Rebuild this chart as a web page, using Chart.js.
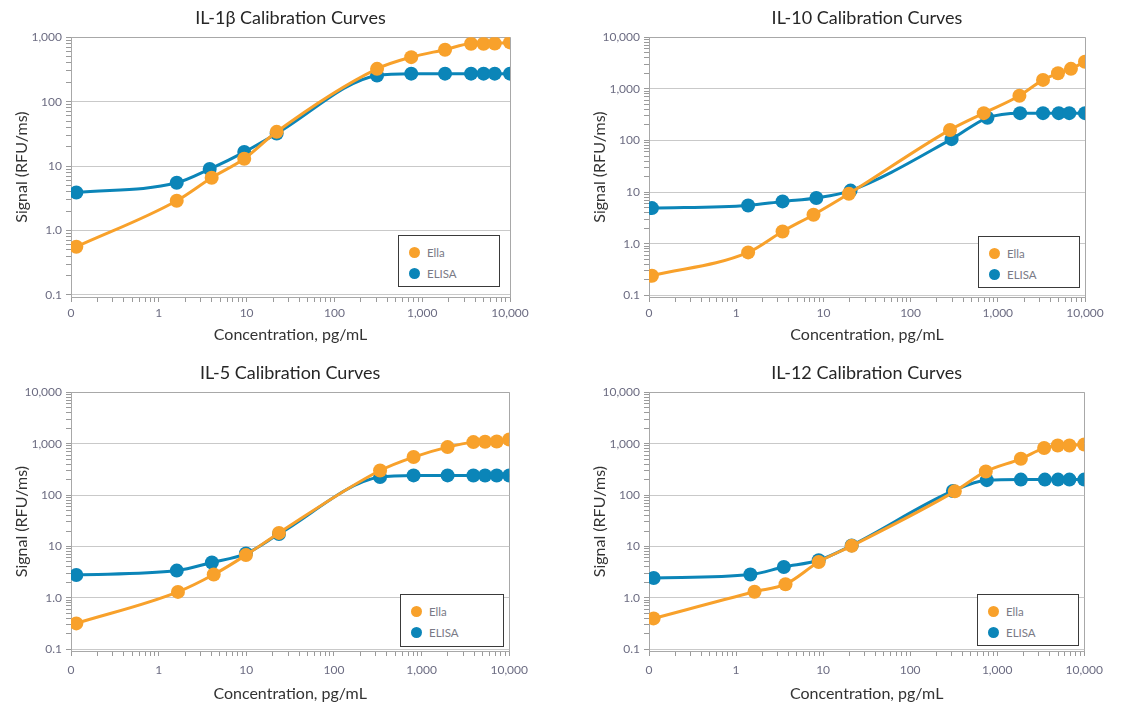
<!DOCTYPE html>
<html>
<head>
<meta charset="utf-8">
<title>Calibration Curves</title>
<script src="https://cdn.jsdelivr.net/npm/chart.js@4.4.1/dist/chart.umd.min.js"></script>
<style>
    html, body { margin: 0; padding: 0; background: #fff; }
    body { position: relative; width: 1122px; height: 711px; overflow: hidden; font-family: Lato, sans-serif; }
    .panel { position: absolute; }
    .legend { position: absolute; box-sizing: border-box; border: 1.5px solid #3a3a3a; background: #fff; }
    .legend .item { position: absolute; left: 0; font-size: 11.5px; color: #7a7a86; line-height: 14px; white-space: nowrap; }
    .legend .dot { position: absolute; width: 11px; height: 11px; border-radius: 50%; }
    .legend .label { position: absolute; }
</style>
</head>
<body>
<script>
// ---- data ----
const panelTitles = ['IL-1β Calibration Curves', 'IL-10 Calibration Curves', 'IL-5 Calibration Curves', 'IL-12 Calibration Curves']
const seriesNames = ['Ella', 'ELISA']
const seriesColors = ['#f8a12b', '#0b85b8']

const xTickValues = [0.1, 1, 10, 100, 1000, 10000]
const xTickLabels = ['0', '1', '10', '100', '1,000', '10,000']
const yTickValues = [0.1, 1, 10, 100, 1000, 10000]
const yTickLabels = ['0.1', '1.0', '10', '100', '1,000', '10,000']
const yAxisMax = [1000, 10000, 10000, 10000]

const xTitle = 'Concentration, pg/mL'
const yTitle = 'Signal (RFU/ms)'

// IL-1β
const il1bEllaConc = [0.115, 1.6, 4.0, 9.4, 22, 306, 750, 1820, 3600, 5000, 6700, 10000]
const il1bEllaSignal = [0.56, 2.9, 6.6, 13, 34, 323, 490, 640, 790, 790, 800, 830]
const il1bElisaConc = [0.115, 1.6, 3.8, 9.4, 22, 306, 750, 1820, 3600, 5000, 6700, 10000]
const il1bElisaSignal = [3.9, 5.5, 9.0, 16.5, 32, 255, 272, 272, 272, 272, 272, 272]

// IL-10
const il10EllaConc = [0.108, 1.37, 3.4, 7.7, 19.6, 283, 690, 1770, 3300, 4900, 6900, 10000]
const il10EllaSignal = [0.24, 0.68, 1.73, 3.65, 9.3, 160, 338, 735, 1490, 2000, 2440, 3350]
const il10ElisaConc = [0.108, 1.37, 3.4, 8.3, 20.5, 295, 760, 1800, 3300, 5000, 6600, 10000]
const il10ElisaSignal = [4.9, 5.5, 6.6, 7.7, 10.7, 106, 275, 338, 338, 338, 338, 338]

// IL-5
const il5EllaConc = [0.115, 1.66, 4.25, 9.9, 23.6, 336, 810, 1980, 3900, 5300, 7200, 10000]
const il5EllaSignal = [0.32, 1.31, 2.85, 6.8, 18.4, 300, 548, 857, 1070, 1090, 1100, 1200]
const il5ElisaConc = [0.115, 1.61, 4.05, 9.9, 23.6, 336, 810, 1980, 3900, 5300, 7200, 10000]
const il5ElisaSignal = [2.8, 3.4, 4.9, 7.3, 17.5, 224, 241, 241, 240, 240, 240, 240]

// IL-12
const il12EllaConc = [0.113, 1.63, 3.7, 8.9, 21.3, 326, 740, 1870, 3460, 4960, 6760, 10000]
const il12EllaSignal = [0.4, 1.32, 1.85, 5.0, 10.3, 118, 288, 508, 820, 920, 920, 965]
const il12ElisaConc = [0.113, 1.46, 3.54, 8.9, 21.3, 310, 760, 1870, 3530, 5000, 6760, 10000]
const il12ElisaSignal = [2.45, 2.85, 4.0, 5.4, 10.5, 120, 195, 200, 200, 200, 200, 200]

const panelSeries = [
    [[il1bEllaConc, il1bEllaSignal], [il1bElisaConc, il1bElisaSignal]],
    [[il10EllaConc, il10EllaSignal], [il10ElisaConc, il10ElisaSignal]],
    [[il5EllaConc, il5EllaSignal], [il5ElisaConc, il5ElisaSignal]],
    [[il12EllaConc, il12EllaSignal], [il12ElisaConc, il12ElisaSignal]]
]

// ---- page layout (pixels) ----
const panelBoxes = [
    {left: 0, top: 0, width: 535, height: 350, xAxisHeight: 53, tickPad: 4, titlePad: 6},
    {left: 578, top: 0, width: 532, height: 350, xAxisHeight: 53, tickPad: 4, titlePad: 6},
    {left: 0, top: 355, width: 535, height: 356, xAxisHeight: 60, tickPad: 7, titlePad: 8},
    {left: 578, top: 355, width: 532, height: 356, xAxisHeight: 60, tickPad: 7, titlePad: 8}
]
const legendBoxes = [
    {left: 398, top: 235, width: 102, height: 52},
    {left: 978, top: 236, width: 102, height: 52},
    {left: 400, top: 594, width: 104, height: 53},
    {left: 977, top: 594, width: 102, height: 52}
]

const gridColor = '#c9c9c9'
const axisColor = '#a8a8a8'
const tickTextColor = '#6c6c82'

Chart.defaults.font.family = 'Lato, sans-serif'

/**
 * Every log tick between min and max: 1..9 times each power of ten
 */
function logTicks(min, max) {
    let ticks = []
    for (let e = Math.round(Math.log10(min)); e < Math.round(Math.log10(max)); e++) {
        for (let m = 1; m < 10; m++) {
            ticks.push({value: parseFloat((m * Math.pow(10, e)).toPrecision(6))})
        }
    }
    ticks.push({value: max})
    return ticks
}

function tickLabel(value, values, labels) {
    let i = values.findIndex(v => Math.abs(v - value) / v < 1e-9)
    return i < 0 ? '' : labels[i]
}

function isDecade(value) {
    let l = Math.log10(value)
    return Math.abs(l - Math.round(l)) < 1e-9
}

function createPanel(i) {
    let box = panelBoxes[i]
    let div = document.createElement('div')
    div.className = 'panel'
    div.style.left = box.left + 'px'
    div.style.top = box.top + 'px'
    div.style.width = box.width + 'px'
    div.style.height = box.height + 'px'
    let canvas = document.createElement('canvas')
    div.appendChild(canvas)
    document.body.appendChild(div)

    let xMin = xTickValues[0], xMax = xTickValues[xTickValues.length - 1]
    // the bottom axis line sits a little under the 0.1 grid line, as in the original
    let yMin = yTickValues[0] * 0.93, yMax = yAxisMax[i]

    let datasets = panelSeries[i].map((s, k) => ({
        label: seriesNames[k],
        data: s[0].map((c, j) => ({x: c, y: s[1][j]})),
        borderColor: seriesColors[k],
        backgroundColor: seriesColors[k],
        pointBackgroundColor: seriesColors[k],
        pointBorderWidth: 0,
        pointRadius: 7,
        pointHoverRadius: 7,
        borderWidth: 3,
        cubicInterpolationMode: 'monotone'
    }))

    return new Chart(canvas.getContext('2d'), {
        type: 'line',
        data: {datasets: datasets},
        options: {
            responsive: true,
            maintainAspectRatio: false,
            animation: false,
            devicePixelRatio: 1,
            layout: {padding: 0},
            plugins: {
                legend: {display: false},
                tooltip: {enabled: false},
                title: {
                    display: true,
                    fullSize: false,
                    text: panelTitles[i],
                    color: '#262626',
                    font: {size: 18, weight: 'normal', lineHeight: 1.2},
                    padding: {top: 7, bottom: 8.6}
                }
            },
            scales: {
                x: {
                    type: 'logarithmic',
                    position: 'bottom',
                    min: xMin,
                    max: xMax,
                    afterBuildTicks: axis => { axis.ticks = logTicks(xMin, xMax) },
                    afterFit: axis => { axis.height = box.xAxisHeight },
                    border: {color: axisColor, width: 1},
                    grid: {
                        color: ctx => (ctx.tick && ctx.tick.value === xMax) ? axisColor : 'rgba(0,0,0,0)',
                        tickColor: '#9a9a9a',
                        tickLength: 5,
                        lineWidth: 1
                    },
                    ticks: {
                        autoSkip: false,
                        maxRotation: 0,
                        minRotation: 0,
                        padding: box.tickPad,
                        color: tickTextColor,
                        font: {size: 12},
                        callback: v => tickLabel(v, xTickValues, xTickLabels)
                    },
                    title: {
                        display: true,
                        text: xTitle,
                        color: '#333',
                        font: {size: 16},
                        padding: {top: 0, bottom: box.titlePad}
                    }
                },
                y: {
                    type: 'logarithmic',
                    position: 'left',
                    min: yMin,
                    max: yMax,
                    afterBuildTicks: axis => { axis.ticks = logTicks(yTickValues[0], yMax) },
                    afterFit: axis => { axis.width = 71 },
                    border: {color: axisColor, width: 1},
                    grid: {
                        color: ctx => (ctx.tick && isDecade(ctx.tick.value)) ? (ctx.tick.value === yMax ? axisColor : gridColor) : 'rgba(0,0,0,0)',
                        tickColor: '#9a9a9a',
                        tickLength: 5,
                        lineWidth: 1
                    },
                    ticks: {
                        autoSkip: false,
                        padding: 4,
                        color: tickTextColor,
                        font: {size: 12},
                        callback: v => tickLabel(v, yTickValues, yTickLabels)
                    },
                    title: {
                        display: true,
                        text: yTitle,
                        color: '#333',
                        font: {size: 16},
                        padding: {top: 12, bottom: 0}
                    }
                },
                // empty right-hand box that keeps the last x label inside the canvas
                pad: {
                    type: 'linear',
                    position: 'right',
                    display: true,
                    grid: {display: false},
                    border: {display: false},
                    ticks: {display: false},
                    afterFit: axis => { axis.width = 25 }
                }
            }
        }
    })
}

function createLegend(i) {
    let b = legendBoxes[i]
    let div = document.createElement('div')
    div.className = 'legend'
    div.style.left = b.left + 'px'
    div.style.top = b.top + 'px'
    div.style.width = b.width + 'px'
    div.style.height = b.height + 'px'
    seriesNames.forEach((name, k) => {
        let item = document.createElement('div')
        item.className = 'item'
        item.style.top = (10 + k * 21) + 'px'
        let dot = document.createElement('span')
        dot.className = 'dot'
        dot.style.background = seriesColors[k]
        dot.style.left = '10px'
        dot.style.top = '1px'
        let label = document.createElement('span')
        label.className = 'label'
        label.style.left = '28px'
        label.textContent = name
        item.appendChild(dot)
        item.appendChild(label)
        div.appendChild(item)
    })
    document.body.appendChild(div)
}

for (let i = 0; i < panelTitles.length; i++) {
    createPanel(i)
    createLegend(i)
}
</script>
</body>
</html>
